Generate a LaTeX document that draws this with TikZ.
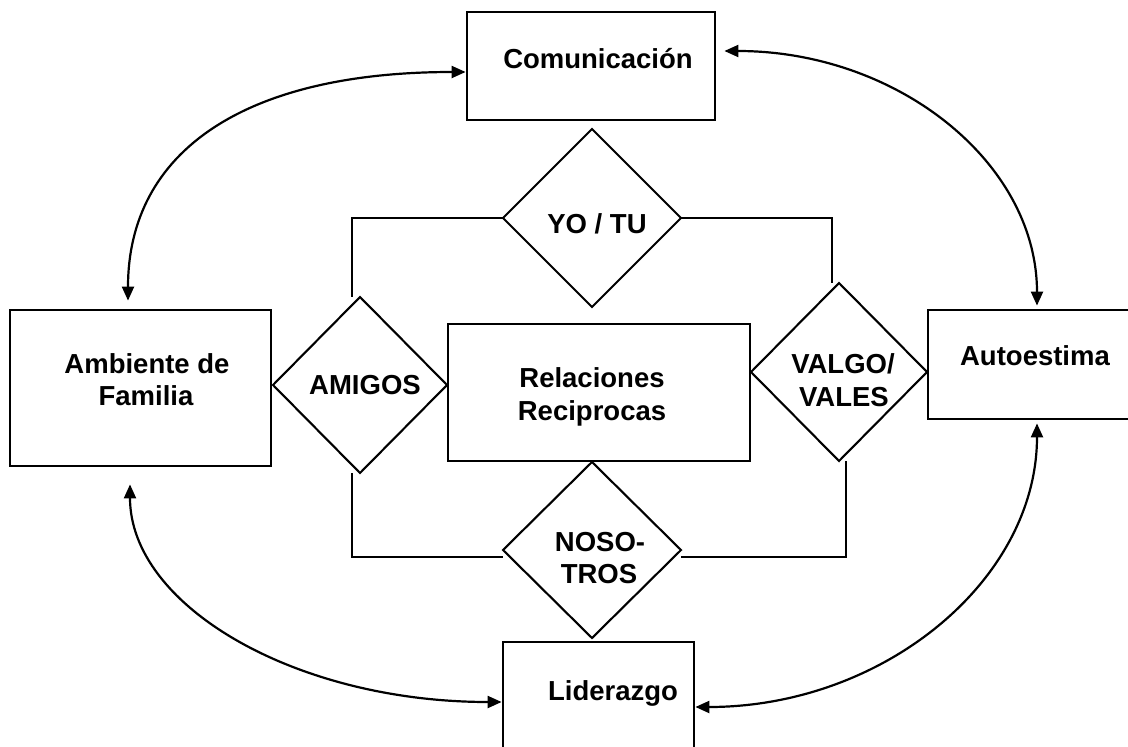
\documentclass[tikz,border=0pt]{standalone}
\usepackage{fontspec}
\setmainfont{Liberation Sans}
\usetikzlibrary{shapes.geometric,arrows.meta}
\begin{document}
\begin{tikzpicture}[x=1pt,y=-1pt,
  box/.style={draw,line width=2.8pt,rectangle,inner sep=0pt},
  dia/.style={draw,line width=2.1pt,diamond,inner sep=0pt,outer sep=0pt},
  txt/.style={font=\fontsize{27.5}{32}\selectfont\bfseries,inner sep=0pt,anchor=base},
  link/.style={line width=2.4pt},
  curv/.style={line width=2.2pt,{Triangle[length=14pt,width=12pt]}-{Triangle[length=14pt,width=12pt]}}]
\useasboundingbox (0,0) rectangle (1128,747);
\fill[white] (0,0) rectangle (1128,747);
\clip (0,0) rectangle (1128,747);

% boxes
\node[box,minimum width=248pt,minimum height=108pt] (com) at (591,66) {};
\node[box,minimum width=261pt,minimum height=156pt] (amb) at (140.5,388) {};
\node[box,minimum width=302pt,minimum height=137pt] (rel) at (599,392.5) {};
\node[box,minimum width=224pt,minimum height=109pt] (auto) at (1040,364.5) {};
\node[box,minimum width=191pt,minimum height=126pt] (lid) at (598.5,705) {};

% diamonds
\node[dia,minimum width=178pt,minimum height=178pt] (yotu) at (592,218) {};
\node[dia,minimum width=174pt,minimum height=176pt] (amigos) at (360,385) {};
\node[dia,minimum width=176pt,minimum height=178pt] (valgo) at (839,372) {};
\node[dia,minimum width=178pt,minimum height=176pt] (nos) at (592,550) {};

% texts
\node[txt] (comt) at (598,68) {Comunicación};
\node[txt] (ambt1) at (147,373) {Ambiente de};
\node[txt] (ambt2) at (146,405) {Familia};
\node[txt] (relt1) at (592,387) {Relaciones};
\node[txt] (relt2) at (592,420) {Reciprocas};
\node[txt] (autot) at (1035,365) {Autoestima};
\node[txt] (lidt) at (613,700) {Liderazgo};
\node[txt] (yotut) at (597,233) {YO / TU};
\node[txt] (amigost) at (365,394) {AMIGOS};
\node[txt] (valgot1) at (843,373) {VALGO/};
\node[txt] (valgot2) at (844,406) {VALES};
\node[txt] (nost1) at (600,551) {NOSO-};
\node[txt] (nost2) at (599,583) {TROS};

% orthogonal connectors
\draw[link] (yotu.west) -| ([xshift=-8pt]amigos.north);
\draw[link] (yotu.east) -| ([xshift=-7pt]valgo.north);
\draw[link] ([xshift=-8pt]amigos.south) |- ([yshift=-7pt]nos.west);
\draw[link] ([yshift=-7pt]nos.east) -| ([xshift=7pt]valgo.south);

% curved double arrows
\draw[curv] ([yshift=-6pt]com.west) to[out=180,in=90,out distance=220pt,in distance=150pt] ([xshift=-12.5pt,yshift=8pt]amb.north);
\draw[curv] ([xshift=8pt,yshift=15pt]com.east) to[out=0,in=90,out distance=173pt,in distance=143pt] ([xshift=-3pt,yshift=3pt]auto.north);
\draw[curv] ([xshift=-10.5pt,yshift=-17pt]amb.south) to[out=-90,in=180,out distance=121pt,in distance=207pt] ([yshift=3pt]lid.west);
\draw[curv] ([xshift=-3pt,yshift=-3pt]auto.south) to[out=-90,in=0,out distance=157pt,in distance=188pt] ([yshift=-2pt]lid.east);
\end{tikzpicture}
\end{document}
